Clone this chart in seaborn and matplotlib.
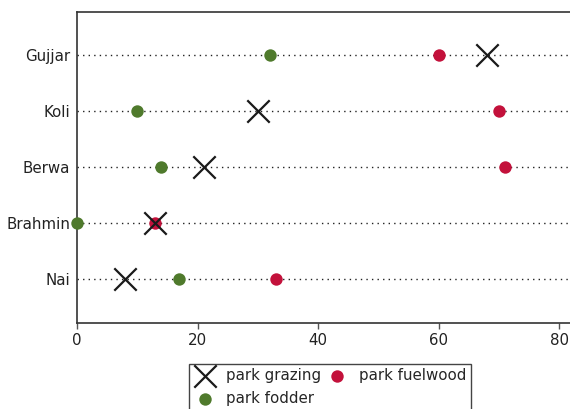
import matplotlib
matplotlib.use("Agg")
import matplotlib.pyplot as plt
import seaborn as sns
import pandas as pd

castes = ["Gujjar", "Koli", "Berwa", "Brahmin", "Nai"]
park_grazing = [68, 30, 21, 13, 8]
park_fuelwood = [60, 70, 71, 13, 33]
park_fodder = [32, 10, 14, 0, 17]
x_ticks = [0, 20, 40, 60, 80]

sns.set_theme(style="white")
plt.rcParams["font.family"] = ["DejaVu Sans"]

df = pd.DataFrame({
    "caste": castes,
    "park grazing": park_grazing,
    "park fuelwood": park_fuelwood,
    "park fodder": park_fodder,
})

fig = plt.figure(figsize=(5.7, 4.09), dpi=100)
ax = fig.add_axes([77 / 570, 1 - 323 / 409, 1 - 77 / 570 + 0.002, (323 - 12) / 409])

# dotted guide line for every row
for i in range(len(castes)):
    ax.axhline(i, color="#222222", linestyle=(0, (1, 3)), linewidth=1.0, zorder=1)

sns.scatterplot(data=df, x="park fodder", y="caste", ax=ax, color="#4f7a2c",
                s=80, linewidth=0, zorder=3, clip_on=False, label="park fodder")
sns.scatterplot(data=df, x="park fuelwood", y="caste", ax=ax, color="#c3113b",
                s=80, linewidth=0, zorder=4, clip_on=False, label="park fuelwood")
sns.scatterplot(data=df, x="park grazing", y="caste", ax=ax, color="#1a1a1a",
                marker="x", s=260, linewidth=1.6, zorder=5, clip_on=False,
                label="park grazing")

ax.set_xlim(0, 82)
ax.set_ylim(4.785, -0.77)
ax.set_xticks(x_ticks)
ax.set_xticklabels([str(v) for v in x_ticks])
ax.set_xlabel("")
ax.set_ylabel("")
ax.tick_params(axis="x", length=4, width=1, color="#555555", labelsize=10.8,
               labelcolor="#222222", pad=3, bottom=True)
ax.tick_params(axis="y", length=0, labelsize=10.8, labelcolor="#222222", pad=5)

for side in ["left", "bottom", "top"]:
    ax.spines[side].set_color("#333333")
    ax.spines[side].set_linewidth(1.2)
ax.spines["right"].set_visible(False)

# legend fills column-wise: grazing / fodder in the first column, fuelwood in the second
handles, labels = ax.get_legend_handles_labels()
order = [labels.index(l) for l in ["park grazing", "park fodder", "park fuelwood"]]
leg = ax.legend([handles[i] for i in order], [labels[i] for i in order],
                ncol=2, loc="upper center", bbox_to_anchor=(330 / 570, 1 - 356 / 409),
                bbox_transform=fig.transFigure, frameon=True, fancybox=False,
                edgecolor="#444444", fontsize=10.8, handletextpad=0.7,
                columnspacing=0.3, borderpad=0.3, labelspacing=0.55,
                handlelength=1.5, framealpha=1, markerscale=1.0)
leg.get_frame().set_linewidth(1.0)

fig.savefig("out.png", dpi=100)
